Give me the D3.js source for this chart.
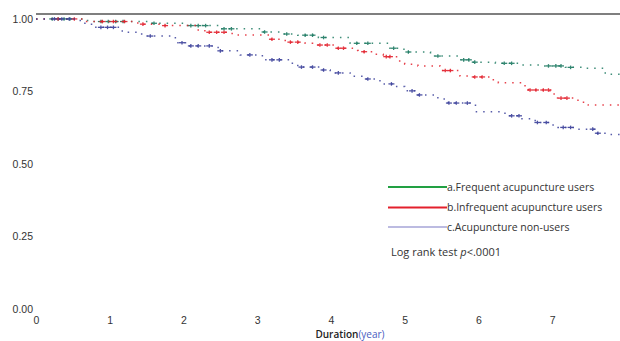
<!DOCTYPE html>
<html>
<head>
<meta charset="utf-8">
<script src="https://cdn.jsdelivr.net/npm/d3@7"></script>
<style>
  html, body { margin: 0; padding: 0; background: #fff; }
  svg { display: block; font-family: "Open Sans", "Noto Sans", sans-serif; }
</style>
</head>
<body>
<svg id="chart" width="620" height="341"></svg>
<script>
// Kaplan-Meier step points (time in years, survival probability)
const frequentTimes = [0, 0.7, 1.55, 2.02, 2.5, 3.04, 3.35, 3.55, 3.83, 4.26, 4.8, 4.99, 5.35, 5.73, 5.92, 6.23, 6.57, 6.9, 7.18, 7.45, 7.72];
const frequentSurv  = [1.0, 0.991, 0.985, 0.977, 0.966, 0.955, 0.948, 0.944, 0.936, 0.916, 0.899, 0.886, 0.872, 0.859, 0.851, 0.847, 0.841, 0.838, 0.833, 0.830, 0.809];
const frequentCensor = [0.22, 0.3, 0.38, 0.46, 0.88, 0.98, 1.08, 1.18, 1.6, 2.1, 2.2, 2.3, 2.55, 2.65, 3.1, 3.4, 3.65, 3.75, 3.9, 4.35, 4.5, 4.85, 5.05, 5.45, 5.8, 5.87, 5.95, 6.35, 6.45, 6.95, 7.05, 7.12, 7.25];

const infrequentTimes = [0, 0.66, 1.38, 1.68, 2.16, 2.29, 2.66, 3.15, 3.38, 3.65, 3.75, 4.06, 4.29, 4.37, 4.6, 4.71, 4.9, 5.0, 5.18, 5.48, 5.75, 5.89, 6.16, 6.27, 6.57, 6.68, 6.97, 7.06, 7.35, 7.49];
const infrequentSurv  = [1.0, 0.991, 0.982, 0.977, 0.962, 0.954, 0.945, 0.930, 0.920, 0.916, 0.910, 0.899, 0.891, 0.887, 0.878, 0.870, 0.855, 0.844, 0.838, 0.822, 0.803, 0.800, 0.790, 0.780, 0.770, 0.755, 0.741, 0.727, 0.713, 0.703];
const infrequentCensor = [0.3, 0.52, 0.9, 1.05, 1.2, 1.45, 1.75, 2.35, 2.45, 2.55, 3.2, 3.45, 3.55, 3.85, 3.95, 4.1, 4.17, 4.45, 4.75, 4.8, 5.55, 5.62, 5.95, 6.05, 6.7, 6.78, 6.88, 6.95, 7.12, 7.2];

const nonUserTimes = [0, 0.6, 0.7, 0.8, 1.17, 1.38, 1.49, 1.89, 2.06, 2.47, 2.77, 3.07, 3.45, 3.55, 3.85, 3.99, 4.26, 4.48, 4.6, 4.69, 4.88, 5.0, 5.18, 5.45, 5.59, 5.96, 6.36, 6.57, 6.77, 6.97, 7.08, 7.35, 7.58, 7.79];
const nonUserSurv  = [1.0, 0.985, 0.982, 0.971, 0.954, 0.948, 0.941, 0.918, 0.907, 0.890, 0.876, 0.859, 0.847, 0.834, 0.824, 0.814, 0.802, 0.793, 0.787, 0.776, 0.767, 0.752, 0.738, 0.724, 0.710, 0.680, 0.666, 0.656, 0.643, 0.634, 0.626, 0.620, 0.606, 0.602];
const nonUserCensor = [0.25, 0.35, 0.45, 0.88, 0.97, 1.05, 1.55, 1.98, 2.1, 2.2, 2.35, 2.5, 2.9, 3.2, 3.3, 3.6, 3.75, 3.9, 4.1, 4.5, 4.82, 5.1, 5.2, 5.6, 5.7, 5.85, 6.45, 6.55, 6.8, 6.92, 7.15, 7.25, 7.55, 7.62];

const xTicks = [0, 1, 2, 3, 4, 5, 6, 7];
const yTicks = [0, 0.25, 0.5, 0.75, 1.0];
const legendLabels = ["a.Frequent acupuncture users", "b.Infrequent acupuncture users", "c.Acupuncture non-users"];

const series = [
  { times: frequentTimes, surv: frequentSurv, censor: frequentCensor, color: "#1d7a62", legendColor: "#22a043", legendWidth: 2.2 },
  { times: infrequentTimes, surv: infrequentSurv, censor: infrequentCensor, color: "#e3202c", legendColor: "#e3202c", legendWidth: 2.2 },
  { times: nonUserTimes, surv: nonUserSurv, censor: nonUserCensor, color: "#3a3f9a", legendColor: "#7a78c4", legendWidth: 1.2 }
];

const svg = d3.select("#chart");
const xMax = 7.92;
const x = d3.scaleLinear().domain([0, xMax]).range([36, 620]);
const y = d3.scaleLinear().domain([0, 1.017]).range([309, 14]);

// Top frame line
svg.append("line")
  .attr("x1", x(0)).attr("x2", x(xMax))
  .attr("y1", y(1.017)).attr("y2", y(1.017))
  .attr("stroke", "#555").attr("stroke-width", 1.5);

// Y axis labels
const yAxis = svg.append("g")
  .attr("transform", `translate(${x(0)},0)`)
  .call(d3.axisLeft(y).tickValues(yTicks).tickFormat(d3.format(".2f")).tickSize(0).tickPadding(3));
yAxis.select(".domain").remove();
yAxis.selectAll("text").attr("fill", "#333").attr("font-size", 10.5);

// X axis labels
const xAxis = svg.append("g")
  .attr("transform", "translate(0,314)")
  .call(d3.axisBottom(x).tickValues(xTicks).tickFormat(d3.format("d")).tickSize(0).tickPadding(3));
xAxis.select(".domain").remove();
xAxis.selectAll("text").attr("fill", "#333").attr("font-size", 10.5);

// X axis title
const title = svg.append("text")
  .attr("x", 350).attr("y", 338)
  .attr("text-anchor", "middle")
  .attr("font-size", 10);
title.append("tspan").attr("fill", "#222").attr("font-weight", 600).text("Duration");
title.append("tspan").attr("fill", "#4a5cc0").text("(year)");

// Survival curves
const line = d3.line().curve(d3.curveStepAfter).x(d => x(d[0])).y(d => y(d[1]));
const stepValue = (s, t) => {
  const i = d3.bisectRight(s.times, t) - 1;
  return s.surv[Math.max(0, i)];
};

series.forEach(s => {
  const pts = s.times.map((t, i) => [t, s.surv[i]]);
  pts.push([xMax, s.surv[s.surv.length - 1]]);
  svg.append("path")
    .attr("d", line(pts))
    .attr("fill", "none")
    .attr("stroke", s.color)
    .attr("stroke-width", 1.5)
    .attr("stroke-dasharray", "1.5,6")
    .attr("opacity", 0.85);

  // censor marks
  const g = svg.append("g").attr("stroke", s.color).attr("stroke-width", 1.3).attr("opacity", 0.9);
  s.censor.forEach(t => {
    const cx = x(t), cy = y(stepValue(s, t));
    g.append("line").attr("x1", cx - 3).attr("x2", cx + 3).attr("y1", cy).attr("y2", cy);
    g.append("line").attr("x1", cx).attr("x2", cx).attr("y1", cy - 1.8).attr("y2", cy + 1.8);
  });
});

// Legend
const legendY = [187, 207.5, 227];
series.forEach((s, i) => {
  svg.append("line")
    .attr("x1", 388).attr("x2", 447)
    .attr("y1", legendY[i]).attr("y2", legendY[i])
    .attr("stroke", s.legendColor).attr("stroke-width", s.legendWidth);
  svg.append("text")
    .attr("x", 447).attr("y", legendY[i])
    .attr("dy", "0.35em")
    .attr("font-size", 10.5)
    .attr("fill", "#333")
    .text(legendLabels[i]);
});

const logRank = svg.append("text")
  .attr("x", 391).attr("y", 252).attr("dy", "0.35em")
  .attr("font-size", 11).attr("fill", "#333");
logRank.append("tspan").text("Log rank test ");
logRank.append("tspan").attr("font-style", "italic").text("p");
logRank.append("tspan").text("<.0001");
</script>
</body>
</html>
